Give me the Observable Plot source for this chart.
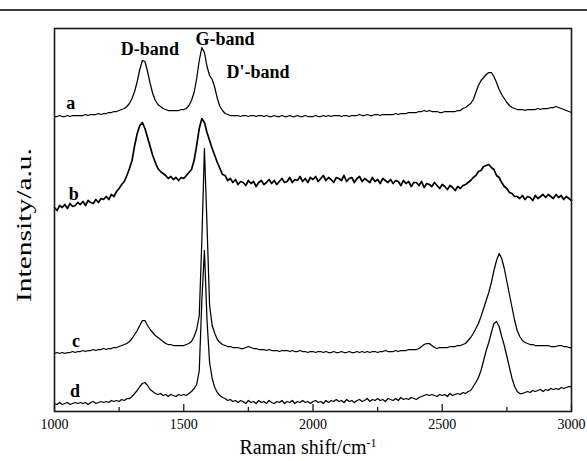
<!DOCTYPE html>
<html><head><meta charset="utf-8">
<script src="https://cdn.jsdelivr.net/npm/d3@7"></script>
<script src="https://cdn.jsdelivr.net/npm/@observablehq/plot@0.6"></script>
<style>
body{margin:0;background:#fff;}
#topline{height:9px;border-bottom:2px solid #3a3a3a;width:587px;}
#chart svg{display:block;}
</style></head><body>
<div id="topline"></div>
<div id="chart"></div>
<script>
// Raman shift sampling grid (cm^-1)
const shiftStart = 1000, shiftStep = 10;

// intensities (arbitrary units, offset-stacked as in the figure), one value per grid point 1000..3000
const seriesA = [
295,295,296,295,295,296,295,296,296,296,
296,296,297,296,297,297,297,298,297,298,
298,299,299,300,300,301,302,303,305,308,
313,320,330,342,351,350,340,328,318,311,
307,305,303,302,301,301,301,301,301,302,
302,303,306,311,319,333,351,364,359,345,
336,332,324,313,305,301,298,297,296,296,
296,296,295,296,296,295,296,296,295,296,
296,295,296,295,295,296,295,295,296,295,
295,296,295,295,296,295,295,296,295,295,
295,296,295,295,296,295,296,295,296,296,
296,295,296,296,295,296,296,296,297,296,
296,297,296,296,297,297,296,297,297,297,
297,297,298,297,298,298,298,299,299,299,
299,300,300,301,300,301,300,300,300,299,
299,300,300,300,300,300,301,301,303,304,
306,308,312,319,326,331,334,337,339,339,
335,329,322,317,313,309,306,304,303,302,
302,302,301,302,302,302,302,303,302,303,
303,303,304,304,305,304,303,302,301,300,
299];

const seriesB = [
204,201,206,204,207,203,208,205,206,209,
207,210,206,211,209,208,212,209,213,212,
215,212,217,215,220,223,227,230,236,243,
251,266,278,286,289,283,274,265,256,249,
243,240,238,236,233,235,232,234,231,234,
233,236,239,242,251,266,283,293,289,279,
271,263,256,249,243,237,236,231,233,229,
232,227,230,229,226,231,228,230,225,229,
231,227,229,232,228,231,227,230,233,229,
230,234,229,232,231,235,230,233,229,234,
232,235,230,233,236,231,234,232,229,234,
233,231,236,230,233,234,229,233,235,230,
233,231,229,234,230,232,228,233,231,229,
232,228,231,230,226,231,228,230,225,229,
229,226,230,224,228,227,225,229,226,223,
227,225,222,226,224,221,225,223,226,227,
229,231,234,236,240,241,245,246,247,244,
242,236,234,229,225,223,219,218,215,215,
213,216,212,215,214,211,216,213,215,217,
214,217,215,213,217,214,216,212,215,213,
211];

const seriesC = [
58,59,58,59,58,59,59,60,59,60,
60,61,60,61,61,62,61,62,62,63,
62,63,63,64,64,65,66,67,68,70,
73,77,81,86,91,91,86,82,79,76,
74,72,70,68,67,67,66,66,66,66,
66,67,68,70,75,82,96,171,263,186,
106,86,78,72,69,67,66,65,65,64,
64,64,63,63,64,65,64,63,63,62,
62,62,61,62,61,61,61,60,61,61,
61,60,61,60,60,61,60,60,59,60,
60,59,60,60,59,60,59,59,60,59,
59,60,59,59,60,59,59,60,59,60,
59,60,59,60,60,59,60,60,61,60,
60,60,61,60,61,61,61,62,62,62,
62,63,65,67,68,68,66,64,63,64,
64,64,64,65,65,65,66,66,67,68,
71,74,78,83,88,95,103,111,119,129,
141,151,158,153,143,130,117,104,91,81,
75,71,69,68,67,67,66,66,66,66,
66,66,65,65,65,66,66,65,65,64,
64];

const seriesD = [
8,7,9,7,8,9,7,8,9,8,
9,8,9,7,9,10,8,9,10,9,
10,9,11,10,11,10,12,11,13,13,
15,18,21,25,28,29,26,22,20,18,
17,18,16,17,15,17,16,15,17,16,
17,16,18,20,23,27,41,111,161,91,
49,33,24,19,16,14,13,11,12,10,
11,9,11,10,8,11,9,10,8,11,
9,10,8,11,9,8,10,9,11,8,
10,9,11,8,10,9,11,9,10,8,
10,11,9,10,8,11,9,11,10,12,
10,11,9,12,10,11,9,11,12,10,
11,13,10,12,11,13,11,12,10,13,
12,11,13,11,14,12,13,12,14,13,
12,14,15,16,17,16,17,16,15,17,
16,17,15,18,16,17,18,17,19,18,
20,21,25,29,34,41,51,61,69,79,
88,90,85,75,66,55,44,33,25,20,
18,18,19,20,19,21,20,21,22,20,
22,21,23,22,23,22,24,23,24,25,
25];

const curveNames = ["a", "b", "c", "d"];
const curveLabelX = [1063, 1074, 1083, 1079];
const curveLabelY = [308, 217, 70, 20];
const bandNames = ["D-band", "G-band", "D'-band"];
const bandLabelX = [1369, 1660, 1787];
const bandLabelY = [362, 372, 339];
const majorTicks = [1000, 1500, 2000, 2500, 3000];
const minorTicks = [1250, 1750, 2250, 2750];
const xLabel = "Raman shift/cm";
const xLabelSup = "-1";
const yLabel = "Intensity/a.u.";

const seriesByName = {a: seriesA, b: seriesB, c: seriesC, d: seriesD};
const rows = [];
for (const name of curveNames) {
  seriesByName[name].forEach((v, i) => rows.push({curve: name, shift: shiftStart + i * shiftStep, intensity: v}));
}
const noisyRows = rows.filter(r => r.curve === "b");
const smoothRows = rows.filter(r => r.curve !== "b");

const W = 587, H = 450, mT = 17, mB = 50, mL = 54, mR = 16;
const frameH = H - mT - mB;
const serif = "Liberation Serif";

const chart = Plot.plot({
  width: W, height: H, marginTop: mT, marginBottom: mB, marginLeft: mL, marginRight: mR,
  style: {fontFamily: serif, background: "#fff", color: "#000", fontSize: "14px"},
  x: {domain: [1000, 3000]},
  y: {domain: [0, 383], axis: null},
  marks: [
    Plot.line(smoothRows, {x: "shift", y: "intensity", z: "curve", stroke: "#000", strokeWidth: 1.25}),
    Plot.line(noisyRows, {x: "shift", y: "intensity", z: "curve", stroke: "#000", strokeWidth: 1.7}),
    Plot.frame({stroke: "#1a1a1a", strokeWidth: 1.6}),
    Plot.tickX(majorTicks, {x: d => d, stroke: "#1a1a1a", strokeWidth: 1.3, insetTop: frameH - 7}),
    Plot.tickX(minorTicks, {x: d => d, stroke: "#1a1a1a", strokeWidth: 1.3, insetTop: frameH - 4}),
    Plot.axisX(majorTicks, {tickSize: 0, tickPadding: 8, tickFormat: d3.format("d"), label: null, fontSize: 14, fontFamily: serif, fill: "#000"}),
    Plot.text(curveNames, {x: (d, i) => curveLabelX[i], y: (d, i) => curveLabelY[i], text: d => d, fontWeight: "bold", fontSize: 18, fontFamily: serif, fill: "#000"}),
    Plot.text(bandNames, {x: (d, i) => bandLabelX[i], y: (d, i) => bandLabelY[i], text: d => d, fontWeight: "bold", fontSize: 18, fontFamily: serif, fill: "#000"}),
    Plot.text([yLabel], {frameAnchor: "left", textAnchor: "middle", lineAnchor: "middle", rotate: -90, dx: -30, dy: 5, fontSize: 20, fontFamily: serif, fill: "#000"}),
    Plot.text([xLabel], {frameAnchor: "bottom", textAnchor: "middle", lineAnchor: "middle", dx: -5, dy: 36, fontSize: 20, fontFamily: serif, fill: "#000"})
  ]
});

const svg = d3.select(chart);
svg.selectAll("text").filter(function() { return this.textContent === yLabel; })
  .attr("textLength", 154).attr("lengthAdjust", "spacingAndGlyphs");
svg.selectAll("text").filter(function() { return this.textContent === xLabel; })
  .each(function() {
    d3.select(this).append("tspan").attr("baseline-shift", "super").attr("font-size", 12).text(xLabelSup);
  });

document.getElementById("chart").appendChild(chart);
</script>
</body></html>
